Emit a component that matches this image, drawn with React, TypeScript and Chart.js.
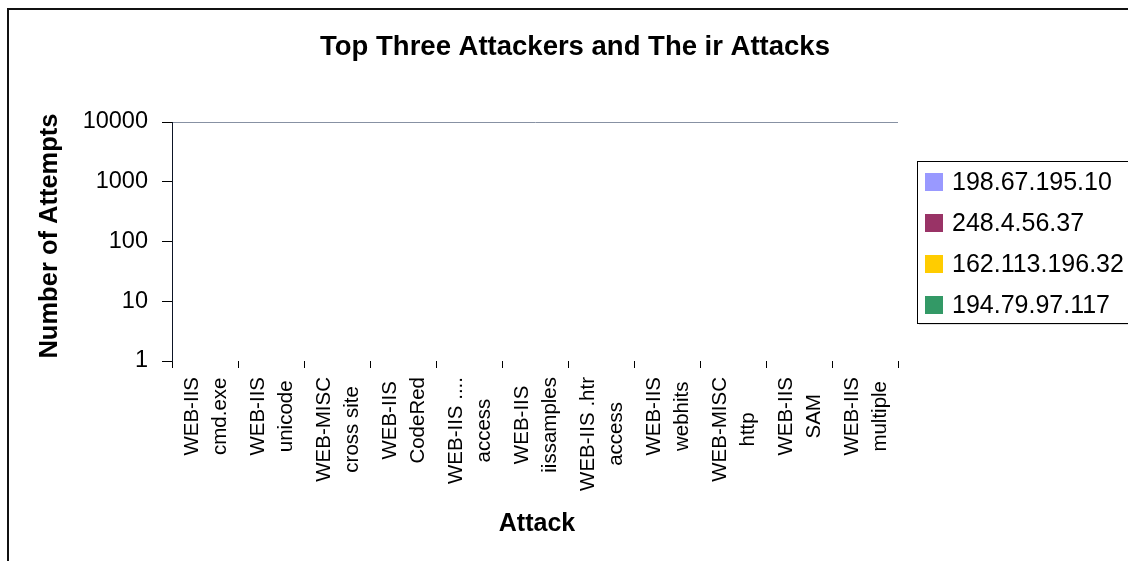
import React, { useEffect, useRef } from 'react';
import { Chart, registerables } from 'chart.js';

Chart.register(...registerables);

const TITLE = 'Top Three Attackers and The ir Attacks';
const Y_TITLE = 'Number of Attempts';
const X_TITLE = 'Attack';

const CATEGORIES: string[][] = [
  ['WEB-IIS', 'cmd.exe'],
  ['WEB-IIS', 'unicode'],
  ['WEB-MISC', 'cross site'],
  ['WEB-IIS', 'CodeRed'],
  ['WEB-IIS ....', 'access'],
  ['WEB-IIS', 'iissamples'],
  ['WEB-IIS .htr', 'access'],
  ['WEB-IIS', 'webhits'],
  ['WEB-MISC', 'http'],
  ['WEB-IIS', 'SAM'],
  ['WEB-IIS', 'multiple'],
];

const SERIES_NAMES = ['198.67.195.10', '248.4.56.37', '162.113.196.32', '194.79.97.117'];
const SERIES_COLORS = ['#9999FF', '#993366', '#FFCC00', '#339966'];

// No bars are visible in the reference: every value sits at the axis base.
const ATTACKER_1 = [0, 0, 0, 0, 0, 0, 0, 0, 0, 0, 0];
const ATTACKER_2 = [0, 0, 0, 0, 0, 0, 0, 0, 0, 0, 0];
const ATTACKER_3 = [0, 0, 0, 0, 0, 0, 0, 0, 0, 0, 0];
const ATTACKER_4 = [0, 0, 0, 0, 0, 0, 0, 0, 0, 0, 0];

const Y_TICKS = [1, 10, 100, 1000, 10000];

const FONT = "'Liberation Sans', Arial, Helvetica, sans-serif";

const CANVAS_W = 1132;
const CANVAS_H = 551;

const decorPlugin = {
  id: 'decor',
  afterDraw(chart: any) {
    const ctx = chart.ctx as CanvasRenderingContext2D;
    const xs = chart.scales.x;
    const area = chart.chartArea;
    ctx.save();
    ctx.fillStyle = '#000';

    // Title
    ctx.font = `bold 27.5px ${FONT}`;
    ctx.textAlign = 'center';
    ctx.textBaseline = 'alphabetic';
    ctx.fillText(TITLE, 566, 45);

    // X axis title
    ctx.font = `bold 25px ${FONT}`;
    ctx.fillText(X_TITLE, (area.left + area.right) / 2 + 2, 521);

    // Y axis title (rotated)
    ctx.save();
    ctx.font = `bold 25.5px ${FONT}`;
    ctx.translate(48, 226);
    ctx.rotate(-Math.PI / 2);
    ctx.textAlign = 'center';
    ctx.textBaseline = 'alphabetic';
    ctx.fillText(Y_TITLE, 0, 0);
    ctx.restore();

    // Category labels: rotated, block aligned to axis, lines centred in block
    ctx.font = `20.5px ${FONT}`;
    const blockTop = area.bottom + 16;
    CATEGORIES.forEach((lines, i) => {
      const cx = xs.getPixelForValue(i);
      const maxLen = Math.max(...lines.map((l) => ctx.measureText(l).width));
      const mid = blockTop + maxLen / 2;
      lines.forEach((line, k) => {
        ctx.save();
        ctx.translate(cx - 7 + k * 28, mid);
        ctx.rotate(-Math.PI / 2);
        ctx.textAlign = 'center';
        ctx.textBaseline = 'alphabetic';
        ctx.fillText(line, 0, 0);
        ctx.restore();
      });
    });

    // Legend
    const lx = 908;
    const ly = 151;
    ctx.fillStyle = 'rgba(0,0,0,0.12)';
    ctx.fillRect(lx + 2, ly + 2, 320, 162);
    ctx.fillStyle = '#fff';
    ctx.fillRect(lx, ly, 320, 162);
    ctx.strokeStyle = '#000';
    ctx.lineWidth = 1;
    ctx.strokeRect(lx + 0.5, ly + 0.5, 320, 162);
    ctx.font = `25px ${FONT}`;
    ctx.textAlign = 'left';
    ctx.textBaseline = 'middle';
    SERIES_NAMES.forEach((name, i) => {
      const cy = 172 + i * 41;
      ctx.fillStyle = SERIES_COLORS[i];
      ctx.fillRect(916, cy - 9, 18, 18);
      ctx.fillStyle = '#000';
      ctx.fillText(name, 943, cy + 1);
    });

    ctx.restore();
  },
};

export default function App() {
  const ref = useRef<HTMLCanvasElement | null>(null);

  useEffect(() => {
    if (!ref.current) return;
    const seriesData = [ATTACKER_1, ATTACKER_2, ATTACKER_3, ATTACKER_4];
    const chart = new Chart(ref.current, {
      type: 'bar',
      data: {
        labels: CATEGORIES.map((c) => c.join(' ')),
        datasets: SERIES_NAMES.map((name, i) => ({
          label: name,
          data: seriesData[i],
          backgroundColor: SERIES_COLORS[i],
          borderColor: '#000',
          borderWidth: 0,
        })),
      },
      options: {
        animation: false,
        responsive: false,
        maintainAspectRatio: false,
        layout: { padding: { left: 0, top: 112, right: 243, bottom: 0 } },
        plugins: {
          legend: { display: false },
          title: { display: false },
          tooltip: { enabled: false },
        },
        scales: {
          x: {
            type: 'category',
            offset: true,
            border: { display: false },
            grid: {
              display: true,
              offset: true,
              drawOnChartArea: false,
              drawTicks: true,
              tickLength: 7,
              color: '#000',
              lineWidth: 1,
            },
            ticks: { display: false },
            afterFit: (scale: any) => {
              scale.height = CANVAS_H - 351;
              scale.paddingLeft = 0;
              scale.paddingRight = 0;
            },
          },
          y: {
            type: 'logarithmic',
            min: 1,
            max: 10000,
            border: { display: true, color: '#0d1526', width: 1 },
            grid: {
              drawOnChartArea: true,
              drawTicks: true,
              tickLength: 10,
              color: (c: any) => (c.tick && c.tick.value === 10000 ? '#8791a3' : 'rgba(0,0,0,0)'),
              tickColor: '#000',
              lineWidth: 1,
            },
            ticks: {
              padding: 14,
              color: '#000',
              font: { family: FONT, size: 23.5 },
              callback: (v: any) => String(v),
            },
            afterBuildTicks: (scale: any) => {
              scale.ticks = Y_TICKS.map((v) => ({ value: v }));
            },
            afterFit: (scale: any) => {
              scale.width = 163;
              scale.paddingTop = 0;
              scale.paddingBottom = 0;
            },
          },
        },
      },
      plugins: [decorPlugin],
    });
    return () => chart.destroy();
  }, []);

  return (
    <div
      style={{
        position: 'fixed',
        left: 7,
        top: 8,
        width: 1119,
        height: 551,
        borderLeft: '2px solid #111',
        borderTop: '2px solid #111',
        overflow: 'hidden',
        background: '#fff',
      }}
    >
      <canvas ref={ref} width={CANVAS_W} height={CANVAS_H} style={{ display: 'block', width: CANVAS_W, height: CANVAS_H }} />
    </div>
  );
}
